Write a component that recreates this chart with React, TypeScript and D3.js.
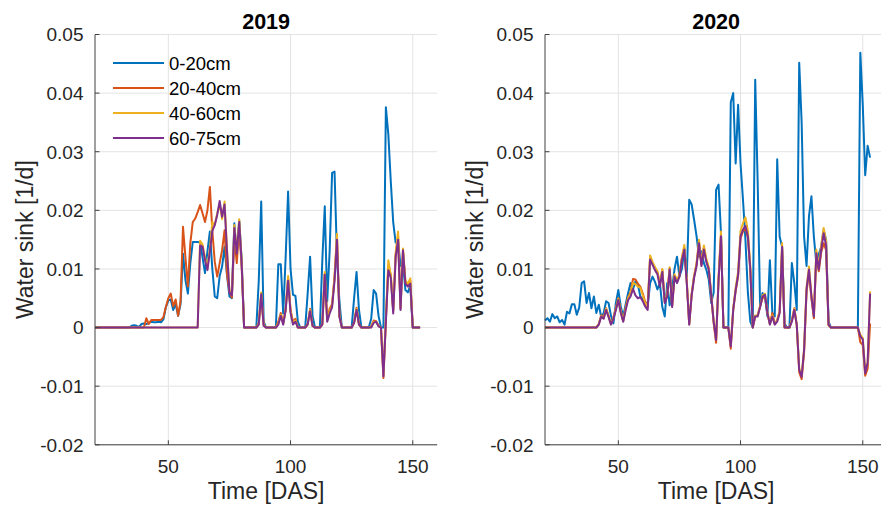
import React from 'react'
import * as d3 from 'd3'

// daily water sink per soil layer, values in 1e-3 1/d, DAS 20..153
const days = d3.range(20, 154)

const blue2019 = [
  0, 0, 0, 0, 0, 0, 0, 0, 0, 0,
  0, 0, 0, 0, 0, 0.3, 0.4, 0.3, 0.1, 0.6,
  0.7, 0.6, 0.8, 1.0, 0.9, 0.9, 1.0, 0.9, 1.4, 3.5,
  4.6, 4.8, 3.0, 4.0, 2.0, 4.0, 12.6, 8.1, 5.8, 11.0,
  14.6, 14.6, 14.6, 14.5, 12.0, 9.3, 13.0, 16.4, 10.0, 5.3,
  5.0, 8.8, 10.4, 13.8, 9.0, 5.3, 5.0, 17.8, 12.5, 18.3,
  11.5, 0, 0, 0, 0, 0, 0, 8.0, 21.5, 1.0,
  0, 0, 0, 0, 0, 10.8, 10.8, 2.4, 12.0, 23.2,
  10.0, 5.6, 5.4, 1.0, 0, 0, 0, 5.8, 12.1, 2.0,
  0, 0, 0, 11.5, 20.7, 4.5, 13.0, 26.4, 26.6, 12.0,
  4.5, 0, 0, 0, 0, 0, 5.0, 9.5, 3.0, 0,
  0, 0, 0, 1.5, 6.4, 5.8, 2.0, 0, 0, 37.6,
  33.0, 25.0, 18.0, 14.5, 14.7, 10.5, 11.0, 6.4, 6.0, 7.2,
  0, 0, 0, 0,
]
const orange2019 = [
  0, 0, 0, 0, 0, 0, 0, 0, 0, 0,
  0, 0, 0, 0, 0, 0, 0, 0, 0, 0,
  0, 1.6, 0.6, 1.3, 1.3, 1.3, 1.3, 1.3, 1.8, 3.5,
  5.0, 5.8, 3.6, 4.8, 2.0, 4.5, 17.2, 12.0, 7.0, 14.4,
  18.0, 18.6, 19.7, 20.9, 19.5, 18.0, 20.0, 24.0, 16.5, 11.2,
  8.7, 11.0, 13.2, 16.6, 9.0, 6.2, 5.1, 15.4, 11.0, 17.0,
  10.3, 0, 0, 0, 0, 0, 0, 0.8, 5.5, 0.5,
  0, 0, 0, 0, 0, 1.0, 2.5, 0.8, 3.0, 8.5,
  3.0, 1.0, 1.5, 0, 0, 0, 0, 0.6, 3.2, 0.3,
  0, 0, 0, 0.6, 9.2, 1.5, 3.2, 4.0, 8.5, 15.4,
  2.0, 0, 0, 0, 0, 0, 0.9, 3.4, 0.6, 0,
  0, 0, 0, 0.2, 1.2, 1.1, 0.3, 0, -8.6, 1.2,
  10.5, 9.0, 2.8, 12.3, 15.6, 3.2, 13.0, 7.6, 7.2, 8.0,
  0, 0, 0, 0,
]
const yellow2019 = [
  0, 0, 0, 0, 0, 0, 0, 0, 0, 0,
  0, 0, 0, 0, 0, 0, 0, 0, 0, 0,
  0, 0, 0, 0, 0, 0, 0, 0, 0, 0,
  0, 0, 0, 0, 0, 0, 0, 0, 0, 0,
  0, 0, 0, 14.8, 14.2, 12.0, 10.2, 13.5, 18.0, 17.5,
  19.5, 21.0, 18.5, 21.5, 13.5, 6.3, 5.6, 17.5, 13.0, 18.5,
  11.5, 0, 0, 0, 0, 0, 0, 0.6, 6.0, 0.4,
  0, 0, 0, 0, 0, 0.8, 2.2, 0.6, 3.2, 8.8,
  2.8, 0.8, 1.2, 0, 0, 0, 0, 0.5, 3.0, 0.3,
  0, 0, 0, 0.5, 9.5, 1.2, 2.8, 3.8, 8.8, 16.0,
  2.0, 0, 0, 0, 0, 0, 0.8, 3.2, 0.5, 0,
  0, 0, 0, 0.1, 1.0, 1.0, 0.3, 0, -7.8, 1.5,
  11.5, 9.0, 3.0, 12.8, 16.4, 3.5, 13.5, 8.0, 7.5, 8.4,
  0, 0, 0, 0,
]
const purple2019 = [
  0, 0, 0, 0, 0, 0, 0, 0, 0, 0,
  0, 0, 0, 0, 0, 0, 0, 0, 0, 0,
  0, 0, 0, 0, 0, 0, 0, 0, 0, 0,
  0, 0, 0, 0, 0, 0, 0, 0, 0, 0,
  0, 0, 0, 14.0, 13.8, 11.5, 9.8, 13.0, 16.5, 17.5,
  19.2, 21.6, 18.9, 21.0, 13.0, 6.0, 5.5, 17.0, 12.6, 18.0,
  11.0, 0, 0, 0, 0, 0, 0, 0.5, 5.7, 0.3,
  0, 0, 0, 0, 0, 0.5, 2.0, 0.5, 3.0, 8.0,
  2.5, 0.5, 1.0, 0, 0, 0, 0, 0.5, 2.8, 0.3,
  0, 0, 0, 0.5, 9.0, 1.0, 2.4, 3.5, 8.0, 15.0,
  1.8, 0, 0, 0, 0, 0, 0.8, 3.0, 0.5, 0,
  0, 0, 0, 0, 0.8, 1.0, 0.2, 0, -8.3, 1.0,
  9.8, 8.5, 2.4, 12.0, 15.0, 3.0, 13.2, 7.5, 7.0, 7.5,
  0, 0, 0, 0,
]

const blue2020 = [
  1.2, 1.6, 1.0, 2.3, 1.6, 1.9, 0.9, 1.3, 0.5, 2.7,
  2.4, 4.0, 4.0, 2.2, 3.4, 7.6, 7.9, 4.2, 5.9, 3.3,
  5.3, 2.5, 3.9, 1.8, 2.5, 4.5, 4.2, 2.0, 0.7, 4.2,
  6.4, 3.6, 1.9, 4.0, 5.9, 7.6, 6.5, 7.9, 7.4, 5.3,
  4.8, 4.4, 3.6, 7.6, 8.7, 7.8, 6.5, 7.6, 3.5, 1.9,
  7.6, 3.8, 6.5, 10.0, 12.1, 8.7, 10.0, 13.3, 8.7, 21.8,
  21.0, 18.4, 15.6, 12.1, 13.0, 11.0, 9.9, 8.2, 4.2, 6.0,
  23.5, 24.4, 16.1, 0, 0, 0, 38.4, 40.0, 28.0, 38.0,
  28.0, 21.8, 15.0, 6.0, 1.0, 0, 42.3, 25.0, 3.6, 5.9,
  5.3, 1.9, 11.5, 2.5, 1.9, 28.7, 15.5, 13.8, 0.7, 0,
  0, 11.0, 7.6, 3.0, 45.2, 35.0, 15.5, 10.5, 19.0, 22.4,
  15.5, 11.0, 12.5, 13.8, 16.7, 15.0, 1.0, 0, 0, 0,
  0, 0, 0, 0, 0, 0, 0, 0, 0, 46.9,
  38.0, 26.0, 31.0, 29.0,
]
const orange2020 = [
  0, 0, 0, 0, 0, 0, 0, 0, 0, 0,
  0, 0, 0, 0, 0, 0, 0, 0, 0, 0,
  0, 0, 0.6, 2.1, 1.7, 3.3, 2.0, 0.6, 1.7, 3.3,
  5.0, 2.8, 1.2, 3.4, 5.2, 6.0, 8.3, 8.2, 7.5, 7.0,
  5.8, 4.4, 3.5, 12.0, 11.0, 10.2, 9.5, 7.4, 9.8, 4.3,
  5.5, 10.1, 3.6, 8.9, 7.8, 8.9, 11.8, 13.6, 7.8, 0.6,
  5.6, 8.7, 10.8, 14.2, 10.7, 13.6, 11.4, 10.0, 5.4, 0.8,
  -2.6, 8.2, 15.8, 0, 0, 0, -3.6, 3.0, 6.2, 8.8,
  15.2, 16.4, 17.0, 15.3, 9.6, 0, 2.0, 2.0, 3.6, 5.0,
  5.3, 2.3, 0.6, 2.5, 0.6, 1.3, 2.8, 13.5, 0, 0,
  0, 1.3, 3.3, 0.3, -7.6, -8.8, -4.2, 6.0, 9.5, 5.0,
  1.6, 12.2, 9.6, 12.8, 14.4, 13.2, 0.4, 0, 0, 0,
  0, 0, 0, 0, 0, 0, 0, 0, 0, -2.5,
  -3.0, -8.2, -7.0, 0.7,
]
const yellow2020 = [
  0, 0, 0, 0, 0, 0, 0, 0, 0, 0,
  0, 0, 0, 0, 0, 0, 0, 0, 0, 0,
  0, 0, 0.6, 2.0, 1.6, 3.2, 1.9, 0.6, 1.6, 3.2,
  4.9, 2.7, 1.1, 3.3, 5.0, 5.8, 7.6, 7.4, 7.0, 6.8,
  5.5, 4.2, 3.4, 12.3, 11.2, 10.3, 9.6, 7.4, 10.0, 4.4,
  5.6, 10.3, 3.7, 9.1, 8.0, 9.1, 12.0, 14.1, 8.0, 0.6,
  5.8, 8.9, 11.0, 15.0, 11.0, 14.0, 11.8, 10.3, 5.7, 1.1,
  -2.0, 8.5, 16.4, 0, 0, 0, -3.0, 3.3, 6.8, 9.6,
  16.5, 17.8, 18.8, 16.5, 10.5, 0, 2.0, 2.1, 3.7, 5.5,
  5.8, 2.7, 0.6, 2.1, 0.6, 1.2, 2.7, 14.4, 0, 0,
  0, 1.2, 3.2, 0.6, -7.0, -8.1, -3.6, 6.9, 10.4, 5.6,
  2.1, 13.3, 10.4, 14.0, 17.0, 14.8, 0.5, 0, 0, 0,
  0, 0, 0, 0, 0, 0, 0, 0, 0, -1.2,
  -1.8, -7.5, -6.0, 6.2,
]
const purple2020 = [
  0, 0, 0, 0, 0, 0, 0, 0, 0, 0,
  0, 0, 0, 0, 0, 0, 0, 0, 0, 0,
  0, 0, 0.5, 1.9, 1.5, 3.0, 1.8, 0.5, 1.5, 3.0,
  4.7, 2.5, 1.0, 3.0, 4.7, 5.3, 6.6, 5.5, 5.0, 5.2,
  4.5, 3.6, 3.0, 11.6, 10.7, 9.8, 9.1, 7.0, 9.5, 4.2,
  5.3, 9.9, 3.5, 8.7, 7.6, 8.7, 11.5, 13.3, 7.6, 0.5,
  5.5, 8.5, 10.5, 14.4, 10.5, 13.3, 11.2, 9.9, 5.5, 1.0,
  -2.1, 8.0, 15.6, 0, 0, 0, -3.2, 3.0, 6.4, 9.0,
  15.6, 16.7, 17.3, 15.6, 9.9, 0, 1.9, 1.9, 3.5, 5.3,
  5.6, 2.5, 0.5, 1.9, 0.5, 1.0, 2.5, 13.8, 0, 0,
  0, 1.0, 3.0, 0.5, -7.2, -8.4, -3.8, 6.5, 9.9, 5.3,
  1.9, 12.7, 9.9, 13.3, 16.1, 14.0, 0.5, 0, 0, 0,
  0, 0, 0, 0, 0, 0, 0, 0, 0, -1.5,
  -2.0, -7.8, -6.0, 5.8,
]

const layers = ['0-20cm', '20-40cm', '40-60cm', '60-75cm']
const colors = ['#0072BD', '#D95319', '#EDB120', '#7E2F8E']
const xTicks = [50, 100, 150]
const yTicks = [-0.02, -0.01, 0, 0.01, 0.02, 0.03, 0.04, 0.05]

const font = '"Liberation Sans", Arial, Helvetica, sans-serif'
const axisColor = '#404040'
const gridColor = '#e3e3e3'

function Panel({ title, series, left, legend }: any) {
  const x = d3.scaleLinear().domain([20, 160]).range([left, left + 342.2])
  const y = d3.scaleLinear().domain([-0.02, 0.05]).range([444.8, 34.5])
  const line = d3.line<number>()
    .x((_, i) => x(days[i]))
    .y(d => y(d / 1000))
  const [x0, x1] = x.range()
  const [yb, yt] = y.range()
  const cx = (x0 + x1) / 2

  return (
    <g fontFamily={font}>
      {/* grid */}
      {yTicks.map(t => (
        <line key={'gy' + t} x1={x0} x2={x1} y1={y(t)} y2={y(t)} stroke={gridColor} strokeWidth={1} />
      ))}
      {xTicks.map(t => (
        <line key={'gx' + t} x1={x(t)} x2={x(t)} y1={yt} y2={yb} stroke={gridColor} strokeWidth={1} />
      ))}

      {series.map((s: number[], i: number) => (
        <path key={i} d={line(s) || ''} fill="none" stroke={colors[i]} strokeWidth={2} strokeLinejoin="round" />
      ))}

      {/* axes */}
      <line x1={x0} x2={x0} y1={yt} y2={yb} stroke={axisColor} strokeWidth={1} />
      <line x1={x0} x2={x1} y1={yb} y2={yb} stroke={axisColor} strokeWidth={1} />
      {yTicks.map(t => (
        <g key={'ty' + t}>
          <line x1={x0} x2={x0 + 4.5} y1={y(t)} y2={y(t)} stroke={axisColor} />
          <text x={x0 - 11.5} y={y(t)} dy="0.36em" textAnchor="end" fontSize={19} fill="#262626">{String(t)}</text>
        </g>
      ))}
      {xTicks.map(t => (
        <g key={'tx' + t}>
          <line x1={x(t)} x2={x(t)} y1={yb} y2={yb - 4.5} stroke={axisColor} />
          <text x={x(t)} y={473} textAnchor="middle" fontSize={19} fill="#262626">{t}</text>
        </g>
      ))}

      <text x={cx} y={28.5} textAnchor="middle" fontSize={21.5} fontWeight="bold" fill="#000">{title}</text>
      <text x={cx} y={499} textAnchor="middle" fontSize={23} fill="#262626">Time [DAS]</text>
      <text transform={`translate(${x0 - 62},${(yt + yb) / 2}) rotate(-90)`} textAnchor="middle" fontSize={23} fill="#262626">
        Water sink [1/d]
      </text>

      {legend && layers.map((name, i) => (
        <g key={name} transform={`translate(${x0 + 18},${63 + i * 25})`}>
          <line x1={0} x2={51} y1={0} y2={0} stroke={colors[i]} strokeWidth={2} />
          <text x={56} y={0} dy="0.36em" fontSize={18.5} fill="#000">{name}</text>
        </g>
      ))}
    </g>
  )
}

export default function App() {
  return (
    <svg width={881} height={505} style={{ position: 'absolute', left: 0, top: 0, display: 'block', background: '#fff' }}>
      <rect width={881} height={505} fill="#fff" />
      <Panel title="2019" left={95} legend series={[blue2019, orange2019, yellow2019, purple2019]} />
      <Panel title="2020" left={545} series={[blue2020, orange2020, yellow2020, purple2020]} />
    </svg>
  )
}
